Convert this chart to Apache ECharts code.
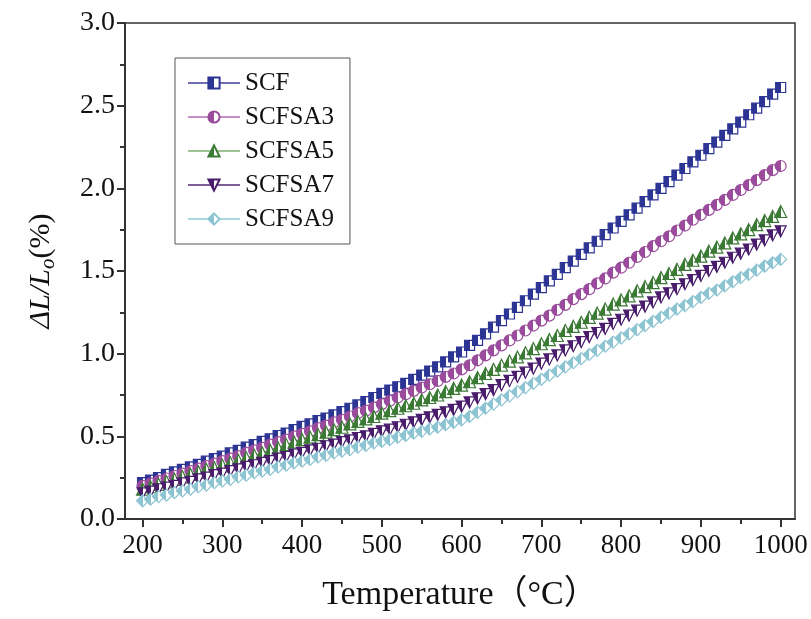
<!DOCTYPE html>
<html>
<head>
<meta charset="utf-8">
<script src="https://cdn.jsdelivr.net/npm/echarts@6/dist/echarts.min.js"></script>
<style>html,body{margin:0;padding:0;background:#fff;}#c{width:811px;height:619px;}</style>
</head>
<body>
<div id="c"></div>
<script>
const temps = [200,210,220,230,240,250,260,270,280,290,300,310,320,330,340,350,360,370,380,390,400,410,420,430,440,450,460,470,480,490,500,510,520,530,540,550,560,570,580,590,600,610,620,630,640,650,660,670,680,690,700,710,720,730,740,750,760,770,780,790,800,810,820,830,840,850,860,870,880,890,900,910,920,930,940,950,960,970,980,990,1000];

const scf = [0.22,0.235,0.25,0.27,0.285,0.30,0.315,0.33,0.35,0.365,0.38,0.40,0.415,0.435,0.45,0.47,0.485,0.505,0.52,0.54,0.56,0.575,0.595,0.61,0.63,0.65,0.67,0.69,0.71,0.735,0.76,0.78,0.80,0.82,0.845,0.87,0.895,0.92,0.95,0.98,1.01,1.05,1.08,1.12,1.16,1.20,1.24,1.28,1.32,1.36,1.40,1.44,1.48,1.52,1.56,1.60,1.64,1.68,1.72,1.76,1.80,1.84,1.88,1.92,1.96,2.00,2.04,2.08,2.12,2.16,2.20,2.24,2.28,2.32,2.36,2.40,2.445,2.485,2.525,2.57,2.61];

const scfsa3 = [0.20,0.215,0.23,0.245,0.26,0.275,0.29,0.305,0.32,0.335,0.35,0.365,0.38,0.40,0.415,0.43,0.45,0.465,0.48,0.50,0.515,0.53,0.55,0.565,0.585,0.60,0.62,0.64,0.655,0.675,0.695,0.715,0.735,0.755,0.775,0.795,0.815,0.835,0.86,0.88,0.905,0.93,0.96,0.99,1.02,1.05,1.08,1.11,1.14,1.17,1.20,1.23,1.265,1.295,1.33,1.36,1.39,1.425,1.455,1.49,1.52,1.55,1.585,1.615,1.65,1.68,1.71,1.745,1.775,1.81,1.84,1.87,1.90,1.93,1.96,1.99,2.02,2.05,2.08,2.11,2.135];

const scfsa5 = [0.18,0.195,0.21,0.225,0.24,0.255,0.27,0.285,0.30,0.31,0.325,0.34,0.355,0.37,0.385,0.40,0.415,0.43,0.45,0.465,0.48,0.495,0.51,0.525,0.54,0.555,0.575,0.59,0.605,0.62,0.64,0.655,0.67,0.685,0.70,0.72,0.735,0.75,0.77,0.79,0.81,0.83,0.855,0.88,0.905,0.93,0.955,0.98,1.005,1.03,1.06,1.085,1.11,1.14,1.165,1.19,1.22,1.245,1.27,1.30,1.325,1.35,1.38,1.405,1.43,1.46,1.485,1.51,1.54,1.565,1.59,1.62,1.645,1.67,1.70,1.725,1.75,1.78,1.805,1.83,1.86];

const scfsa7 = [0.155,0.165,0.18,0.19,0.20,0.215,0.225,0.24,0.25,0.265,0.275,0.29,0.30,0.315,0.325,0.34,0.35,0.365,0.375,0.39,0.40,0.415,0.425,0.44,0.45,0.465,0.475,0.49,0.50,0.515,0.53,0.54,0.555,0.57,0.585,0.60,0.615,0.63,0.645,0.66,0.68,0.705,0.73,0.755,0.78,0.81,0.835,0.86,0.885,0.91,0.94,0.965,0.99,1.02,1.045,1.07,1.10,1.125,1.15,1.18,1.205,1.23,1.26,1.285,1.31,1.34,1.365,1.39,1.42,1.445,1.47,1.50,1.525,1.55,1.58,1.605,1.63,1.66,1.685,1.715,1.74];

const scfsa9 = [0.11,0.12,0.135,0.145,0.16,0.17,0.18,0.195,0.205,0.22,0.23,0.24,0.255,0.265,0.28,0.29,0.30,0.315,0.325,0.34,0.35,0.36,0.375,0.385,0.40,0.41,0.42,0.435,0.445,0.46,0.47,0.48,0.495,0.505,0.52,0.53,0.545,0.555,0.57,0.585,0.60,0.62,0.645,0.67,0.695,0.72,0.745,0.77,0.795,0.82,0.845,0.87,0.895,0.92,0.945,0.97,0.995,1.02,1.045,1.07,1.095,1.12,1.145,1.17,1.195,1.22,1.245,1.27,1.29,1.315,1.34,1.365,1.385,1.41,1.435,1.46,1.48,1.505,1.53,1.55,1.57];

const seriesNames = ['SCF','SCFSA3','SCFSA5','SCFSA7','SCFSA9'];
const seriesData = [scf, scfsa3, scfsa5, scfsa7, scfsa9];
const markColors = ['#2c3594','#9a4b9c','#3b7a34','#4a1c6c','#8cc4d2'];
const lineColors = ['#6d6fb0','#c68fc6','#9ec394','#7d5e98','#a8d7e2'];
const symbols = ['rect','circle','triangle','path://M0,0 L10,0 L5,9 Z','diamond'];
const majorX = [200,300,400,500,600,700,800,900,1000];
const minorX = [250,350,450,550,650,750,850,950];

const FONT = "'Liberation Serif','Times New Roman',serif";

function halfFill(c) {
  return {type:'linear', x:0, y:0, x2:1, y2:0, colorStops:[
    {offset:0, color:c},{offset:0.5, color:c},{offset:0.5, color:'#ffffff'},{offset:1, color:'#ffffff'}]};
}

const chart = echarts.init(document.getElementById('c'), null, {renderer:'canvas'});
const series = seriesNames.map((n, i) => ({
  name: n,
  type: 'line',
  xAxisIndex: 0,
  data: temps.map((t, k) => [t, seriesData[i][k]]),
  symbol: symbols[i],
  symbolSize: [10, 11, 12, 11, 12][i],
  showSymbol: true,
  lineStyle: {color: lineColors[i], width: 1},
  itemStyle: {color: halfFill(markColors[i]), borderColor: markColors[i], borderWidth: 1.2},
  emphasis: {disabled: true},
  animation: false
}));

chart.setOption({
  backgroundColor: '#ffffff',
  animation: false,
  grid: {left:125, right:16, top:23, bottom:100, show:true, borderColor:'#333', borderWidth:1.5, backgroundColor:'transparent'},
  legend: {
    orient:'vertical', left:175, top:58,
    data: seriesNames,
    borderColor:'#555', borderWidth:1,
    padding:[12,16,12,12],
    itemWidth:52, itemHeight:14, itemGap:8,
    textStyle:{fontFamily:FONT, fontSize:25, color:'#111', lineHeight:26}
  },
  xAxis: [{
    type:'value', min:178, max:1018, position:'bottom',
    axisLine:{show:true, onZero:false, lineStyle:{color:'#333', width:2}},
    axisTick:{show:true, length:8, customValues:majorX, lineStyle:{color:'#333', width:2}},
    axisLabel:{customValues:majorX, formatter:v => String(v), fontFamily:FONT, fontSize:27, color:'#111', margin:13},
    splitLine:{show:false},
    name:'Temperature（°C）', nameLocation:'middle', nameGap:59,
    nameTextStyle:{fontFamily:"'Liberation Serif','Noto Sans CJK SC',serif", fontSize:34, color:'#111'}
  },{
    type:'value', min:178, max:1018, position:'bottom',
    axisLine:{show:false},
    axisTick:{show:true, length:5, customValues:minorX, lineStyle:{color:'#333', width:2}},
    axisLabel:{show:false},
    splitLine:{show:false}
  }],
  yAxis: {
    type:'value', min:0, max:3, interval:0.5,
    axisLine:{show:true, lineStyle:{color:'#333', width:2}},
    axisTick:{show:true, length:8, lineStyle:{color:'#333', width:2}},
    minorTick:{show:true, splitNumber:2, length:5, lineStyle:{color:'#333', width:2}},
    axisLabel:{formatter:v => v.toFixed(1), fontFamily:FONT, fontSize:28, color:'#111', margin:10},
    splitLine:{show:false},
    name:'{i|ΔL/L}{s|o}{n|(%)}', nameLocation:'middle', nameGap:66,
    nameTextStyle:{fontFamily:FONT, fontSize:30, color:'#111',
      rich:{
        i:{fontFamily:FONT, fontStyle:'italic', fontSize:30, color:'#111', lineHeight:36},
        s:{fontFamily:FONT, fontStyle:'italic', fontSize:21, color:'#111', verticalAlign:'bottom', lineHeight:36},
        n:{fontFamily:FONT, fontSize:30, color:'#111', lineHeight:36}
      }}
  },
  series: series
});
</script>
</body>
</html>
